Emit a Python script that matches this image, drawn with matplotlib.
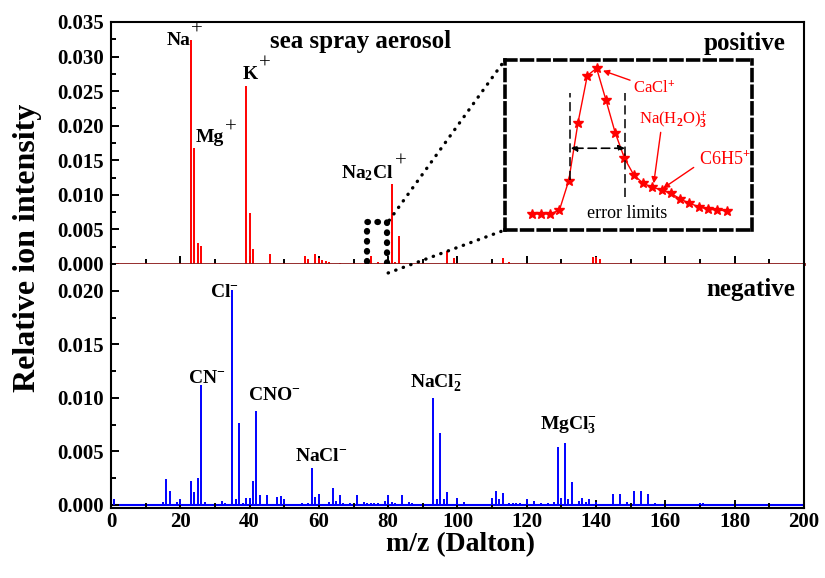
import matplotlib
matplotlib.use("Agg")
import matplotlib.pyplot as plt
from matplotlib.patches import Rectangle, ConnectionPatch
from matplotlib.ticker import MultipleLocator, FormatStrFormatter
import numpy as np

plt.rcParams['font.family'] = ['Liberation Serif', 'DejaVu Serif']
plt.rcParams['font.weight'] = 'bold'
plt.rcParams['mathtext.fontset'] = 'custom'
plt.rcParams['mathtext.rm'] = 'Liberation Serif'
plt.rcParams['mathtext.bf'] = 'Liberation Serif:bold'
plt.rcParams['mathtext.it'] = 'Liberation Serif:italic'
plt.rcParams['mathtext.default'] = 'bf'

# positive ion spectrum (m/z, relative intensity)
pos_mz = [23, 24, 25, 26, 39, 40, 41, 46, 56, 57, 59, 60, 61, 62, 63, 66,
          75, 77, 81, 82, 83, 97, 99, 113, 115, 139, 140, 141]
pos_int = [0.0324, 0.0168, 0.0030, 0.0026, 0.0257, 0.0073, 0.0022, 0.0015,
           0.0011, 0.0007, 0.0015, 0.0008, 0.0006, 0.0004, 0.0003, 0.0002,
           0.0012, 0.0003, 0.0116, 0.0003, 0.0041, 0.0019, 0.0008, 0.0008,
           0.0003, 0.0010, 0.0010, 0.0007]

# negative ion spectrum
neg_mz = [1, 15, 16, 17, 19, 20, 23, 24, 25, 26, 27, 32, 33, 35, 36, 37, 38,
          39, 40, 41, 42, 43, 45, 48, 49, 50, 55, 57, 58, 59, 60, 63, 64, 65,
          66, 67, 69, 71, 73, 74, 75, 76, 77, 79, 80, 81, 82, 84, 86, 87, 93,
          94, 95, 96, 97, 100, 102, 110, 111, 112, 113, 115, 116, 117, 118,
          120, 122, 124, 126, 128, 129, 130, 131, 132, 133, 135, 136, 137,
          138, 140, 145, 147, 149, 151, 153, 155, 157, 170, 171, 187, 189]
neg_int = [0.0005, 0.0003, 0.0024, 0.0013, 0.0003, 0.0005, 0.00225, 0.0012,
           0.0025, 0.0112, 0.0003, 0.0004, 0.0002, 0.0201, 0.0005, 0.0076,
           0.0002, 0.0006, 0.0006, 0.0022, 0.0088, 0.0009, 0.0009, 0.0007,
           0.0008, 0.0005, 0.0002, 0.0002, 0.0034, 0.0007, 0.0010, 0.0003,
           0.0016, 0.0004, 0.0009, 0.0002, 0.0002, 0.0009, 0.0003, 0.0002,
           0.0002, 0.0002, 0.0002, 0.0004, 0.0009, 0.0003, 0.0002, 0.0009,
           0.0003, 0.0002, 0.0100, 0.0005, 0.0067, 0.0005, 0.0012, 0.0006,
           0.0003, 0.0006, 0.0013, 0.0005, 0.0011, 0.0002, 0.0002, 0.0002,
           0.0002, 0.0005, 0.0004, 0.0002, 0.0002, 0.0003, 0.0054, 0.0006,
           0.0058, 0.0005, 0.0021, 0.0004, 0.0006, 0.0003, 0.0005, 0.0003,
           0.0010, 0.0010, 0.0003, 0.0013, 0.0013, 0.0010, 0.0002, 0.0002,
           0.0002, 0.0001, 0.0001]

# inset: peak profile (channel index, normalised intensity)
peak_ch = np.arange(22)
peak_int = [0, 0, 0, 0.027, 0.229, 0.627, 0.95, 1.0, 0.783, 0.558, 0.382,
            0.268, 0.211, 0.183, 0.165, 0.142, 0.103, 0.073, 0.05, 0.032,
            0.027, 0.021]

pos_labels = [("Na", 22.9, 0.0317, 'right'),
              ("Mg", 24.5, 0.0176, 'left'),
              ("K", 38.0, 0.0268, 'left'),
              ("Na$_{2}$Cl", 66.5, 0.0124, 'left')]
neg_labels = [("Cl$^{-}$", 28.6, 0.0194),
              ("CN$^{-}$", 22.3, 0.0114),
              ("CNO$^{-}$", 39.5, 0.0098),
              ("NaCl$^{-}$", 53.1, 0.0041),
              ("NaCl$_{2}^{-}$", 86.3, 0.0110),
              ("MgCl$_{3}^{-}$", 123.8, 0.0070)]

fig = plt.figure(figsize=(8.25, 5.78), dpi=100)
ax1 = fig.add_axes([0.1345, 0.5433, 0.8400, 0.4187])
ax2 = fig.add_axes([0.1345, 0.1211, 0.8400, 0.4221])

ax1.vlines(pos_mz, 0, pos_int, color='#ff0000', lw=1.4)
ax2.vlines(neg_mz, 0, neg_int, color='#0000ff', lw=1.4)
ax2.axhline(0, color='#0000ff', lw=1.5, zorder=1.5)

ax1.set_ylim(0, 0.035)
ax2.set_ylim(-0.0003, 0.0225)
for ax in (ax1, ax2):
    ax.set_xlim(0, 200)
    ax.xaxis.set_major_locator(MultipleLocator(20))
    ax.xaxis.set_minor_locator(MultipleLocator(10))
    ax.yaxis.set_major_locator(MultipleLocator(0.005))
    ax.yaxis.set_minor_locator(MultipleLocator(0.0025))
    ax.yaxis.set_major_formatter(FormatStrFormatter('%.3f'))
    ax.tick_params(which='both', direction='in', top=False, right=False,
                   width=1.4, labelsize=15)
    ax.tick_params(which='major', length=6)
    ax.tick_params(which='minor', length=3.5)
    ax.tick_params(axis='y', pad=5)
    ax.tick_params(axis='x', pad=3)
    for s in ax.spines.values():
        s.set_linewidth(1.5)
ax1.tick_params(axis='x', labelbottom=False)
ax1.spines['bottom'].set_color('#8b1a1a')
ax1.spines['bottom'].set_linewidth(2)
ax2.spines['top'].set_visible(False)

for txt, x, y, ha in pos_labels:
    t = ax1.text(x, y, txt, fontsize=14, ha=ha, va='baseline')
    ax1.annotate("+", xy=(1, 1), xycoords=t, xytext=(0.5, 1),
                 textcoords='offset points', fontsize=15, fontweight='normal',
                 ha='left', va='center')
ax1.text(45.9, 0.0312, "sea spray aerosol", fontsize=18, va='baseline')
ax1.text(194.8, 0.0309, "positive", fontsize=18, ha='right', va='baseline')

for txt, x, y in neg_labels:
    ax2.text(x, y, txt, fontsize=14, va='baseline')
ax2.text(197.4, 0.0195, "negative", fontsize=18, ha='right', va='baseline')

fig.text(0.033, 0.571, "Relative ion intensity", rotation=90, fontsize=23,
         ha='center', va='center')
fig.text(0.558, 0.057, "m/z (Dalton)", fontsize=20, ha='center', va='center')

# dotted box around the zoomed peak
box = Rectangle((73.9, -0.00126), 5.8, 0.00726, fill=False, ec='black',
                lw=4.5, ls=(0, (0.1, 1.5)), clip_on=False, zorder=5)
box.set_capstyle('round')
ax1.add_patch(box)

# inset
ins = ax1.inset_axes([0.5685, 0.1405, 0.3565, 0.7025])
ins.set_xlim(-2.87, 23.73)
ins.set_ylim(-0.11, 1.057)
ins.set_xticks([])
ins.set_yticks([])
for s in ins.spines.values():
    s.set_linestyle((0, (3, 1.6)))
    s.set_linewidth(2.6)
ins.plot(peak_ch, peak_int, color='#ff0000', lw=1, marker='*', ms=7,
         mec='#ff0000', mfc='#ff0000')

ins.plot([4.12, 4.12], [0.233, 0.828], color='black', lw=1.1, ls=(0, (6, 3)))
ins.plot([10.1, 10.1], [0.119, 0.828], color='black', lw=1.1, ls=(0, (6, 3)))
ins.annotate("", xy=(4.2, 0.451), xytext=(10.05, 0.451),
             arrowprops=dict(arrowstyle='<|-|>', color='black', lw=1.2,
                             ls=(0, (5, 3)), mutation_scale=9,
                             shrinkA=0, shrinkB=0))
ins.text(10.25, 0.005, "error limits", fontsize=13, fontweight='normal',
         ha='center', va='center')

red_kw = dict(color='#ff0000', fontsize=12, fontweight='normal')
ins.annotate("CaCl$\\mathrm{^{+}}$", xy=(7.4, 0.99), xytext=(10.9, 0.86),
             va='center', ha='left',
             arrowprops=dict(arrowstyle='-|>', color='#ff0000', lw=1,
                             mutation_scale=9, shrinkA=0, shrinkB=2),
             **red_kw)
ins.text(11.6, 0.645, "Na(H$\\mathrm{_{2}}$O)$\\mathrm{_{3}^{+}}$",
         va='center', ha='left', **red_kw)
ins.annotate("", xy=(13.15, 0.21), xytext=(13.9, 0.56),
             arrowprops=dict(arrowstyle='-|>', color='#ff0000', lw=1,
                             mutation_scale=9, shrinkA=0, shrinkB=0))
ins.annotate("C6H5$\\mathrm{^{+}}$", xy=(14.15, 0.176), xytext=(18.0, 0.38),
             va='center', ha='left',
             arrowprops=dict(arrowstyle='-|>', color='#ff0000', lw=1,
                             mutation_scale=9, shrinkA=2, shrinkB=0,
                             relpos=(0, 0.2)),
             fontsize=13, color='#ff0000', fontweight='normal')

for xyA, xyB in [((80.3, 0.0063), (0, 1)), ((80.0, -0.0013), (0, 0))]:
    con = ConnectionPatch(xyA=xyA, coordsA=ax1.transData, xyB=xyB,
                          coordsB=ins.transAxes, color='black', lw=2.4,
                          ls=(0, (0.1, 2.3)), capstyle='round')
    fig.add_artist(con)

fig.savefig("out.png", dpi=100)
